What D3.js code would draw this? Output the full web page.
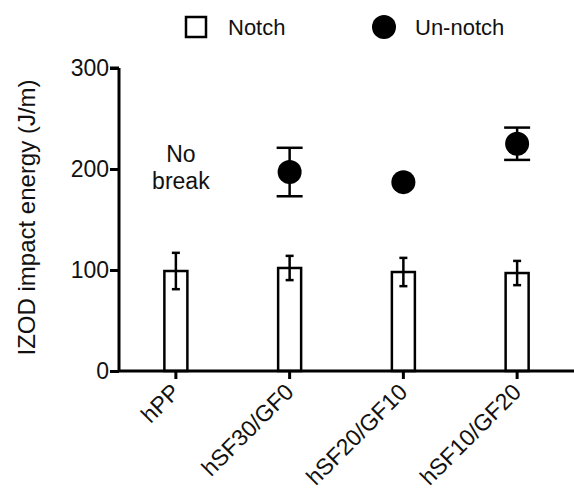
<!DOCTYPE html>
<html>
<head>
<meta charset="utf-8">
<script src="https://cdn.jsdelivr.net/npm/d3@7"></script>
<style>
  body { margin: 0; background: #fff; }
  svg { display: block; font-family: "Liberation Sans", Arial, sans-serif; }
</style>
</head>
<body>
<div id="chart"></div>
<script>
// data
const categories = ["hPP", "hSF30/GF0", "hSF20/GF10", "hSF10/GF20"];
const notchMean = [99, 102, 98, 97];
const notchErr = [18, 12, 14, 12];
const unnotchMean = [null, 197, 187, 225];
const unnotchErr = [null, 24, 0, 16];
const yTicks = [0, 100, 200, 300];

const width = 574, height = 492;
const margin = { left: 119, right: 0, top: 68, bottom: 121 };

const svg = d3.select("#chart").append("svg")
  .attr("width", width)
  .attr("height", height);

const x = d3.scaleBand()
  .domain(categories)
  .range([margin.left, width - margin.right]);

const y = d3.scaleLinear()
  .domain([0, 300])
  .range([height - margin.bottom, margin.top]);

const rows = categories.map((c, i) => ({
  cat: c,
  n: notchMean[i], ne: notchErr[i],
  u: unnotchMean[i], ue: unnotchErr[i]
}));

const barW = 23;
const mid = c => x(c) + x.bandwidth() / 2;

// bars (notch)
svg.append("g").selectAll("rect")
  .data(rows)
  .enter().append("rect")
  .attr("x", d => mid(d.cat) - barW / 2)
  .attr("y", d => y(d.n))
  .attr("width", barW)
  .attr("height", d => y(0) - y(d.n))
  .attr("fill", "#fff")
  .attr("stroke", "#000")
  .attr("stroke-width", 2.5);

// error bars
const errG = svg.append("g").attr("stroke", "#000").attr("stroke-width", 2.5);
function errBar(cx, v, e, half) {
  errG.append("line")
    .attr("x1", cx).attr("x2", cx)
    .attr("y1", y(v + e)).attr("y2", y(v - e));
  [v + e, v - e].forEach(t => {
    errG.append("line")
      .attr("x1", cx - half).attr("x2", cx + half)
      .attr("y1", y(t)).attr("y2", y(t));
  });
}
rows.forEach(d => errBar(mid(d.cat), d.n, d.ne, 4));

// un-notch points
const pts = rows.filter(d => d.u != null);
pts.forEach(d => { if (d.ue > 0) errBar(mid(d.cat), d.u, d.ue, 13); });
svg.append("g").selectAll("circle")
  .data(pts)
  .enter().append("circle")
  .attr("cx", d => mid(d.cat))
  .attr("cy", d => y(d.u))
  .attr("r", 12)
  .attr("fill", "#000");

// "No break" note over hPP
const nbx = mid("hPP") + 5;
const nb = svg.append("text")
  .attr("text-anchor", "middle")
  .attr("font-size", 23)
  .attr("fill", "#111");
nb.append("tspan").attr("x", nbx).attr("y", 162).text("No");
nb.append("tspan").attr("x", nbx).attr("y", 189).text("break");

// axes
const yAxis = svg.append("g")
  .attr("transform", `translate(${margin.left},0)`)
  .call(d3.axisLeft(y).tickValues(yTicks).tickSize(9).tickPadding(1));

const xAxis = svg.append("g")
  .attr("transform", `translate(0,${y(0)})`)
  .call(d3.axisBottom(x).tickSize(8).tickSizeOuter(0).tickPadding(4));

[yAxis, xAxis].forEach(g => {
  g.select(".domain").attr("stroke", "#000").attr("stroke-width", 3);
  g.selectAll(".tick line").attr("stroke", "#000").attr("stroke-width", 3);
  g.selectAll(".tick text").attr("fill", "#111").attr("font-size", 23)
    .attr("font-family", "'Liberation Sans', Arial, sans-serif");
});
yAxis.select(".domain").attr("d", `M0,${y(300)}H-9M0,${y(300)}V${y(0)}`);
xAxis.select(".domain").attr("d", `M${margin.left},0H${width}`);

xAxis.selectAll(".tick text")
  .attr("text-anchor", "end")
  .attr("dy", 0)
  .attr("transform", "translate(-3,14) rotate(-45)");

// y title
svg.append("text")
  .attr("transform", `translate(35,${(77 + 358) / 2}) rotate(-90)`)
  .attr("text-anchor", "middle")
  .attr("font-size", 24)
  .attr("fill", "#111")
  .text("IZOD impact energy (J/m)");

// legend
const leg = svg.append("g");
leg.append("rect")
  .attr("x", 186).attr("y", 17).attr("width", 20).attr("height", 20)
  .attr("fill", "#fff").attr("stroke", "#000").attr("stroke-width", 2.5);
leg.append("text").attr("x", 228).attr("y", 35).attr("font-size", 22).attr("fill", "#111").text("Notch");
leg.append("circle").attr("cx", 384).attr("cy", 27).attr("r", 12).attr("fill", "#000");
leg.append("text").attr("x", 415).attr("y", 35).attr("font-size", 22).attr("fill", "#111").text("Un-notch");
</script>
</body>
</html>
